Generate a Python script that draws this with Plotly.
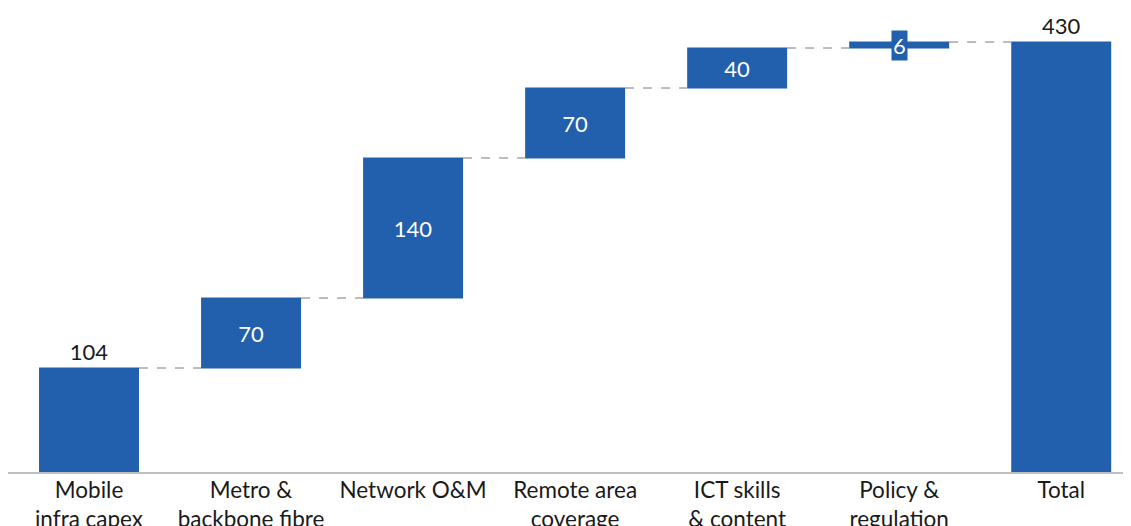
import plotly.graph_objects as go

categories = ["Mobile<br>infra capex", "Metro &<br>backbone fibre", "Network O&M",
              "Remote area<br>coverage", "ICT skills<br>& content", "Policy &<br>regulation", "Total"]
values = [104, 70, 140, 70, 40, 6, 430]
measures = ["relative"] * 6 + ["total"]

BLUE = "#2260AD"
FONT = "Lato"
FS = 22

texts = [str(v) for v in values]
texts[5] = ""
positions = ["outside", "inside", "inside", "inside", "inside", "inside", "outside"]

fig = go.Figure(go.Waterfall(
    x=list(range(len(categories))),
    y=values,
    measure=measures,
    text=texts,
    textposition=positions,
    insidetextanchor="middle",
    textfont=dict(family=FONT, size=FS),
    insidetextfont=dict(family=FONT, size=FS, color="white"),
    outsidetextfont=dict(family=FONT, size=FS, color="#1a1a1a"),
    constraintext="none",
    cliponaxis=False,
    increasing=dict(marker=dict(color=BLUE)),
    totals=dict(marker=dict(color=BLUE)),
    decreasing=dict(marker=dict(color=BLUE)),
    connector=dict(line=dict(color="#7a7a7a", width=1, dash="dash")),
))

# small bar label with a box
cum = sum(values[:5])
fig.add_annotation(x=5, y=cum + values[5] / 2, text=str(values[5]), showarrow=False,
                   bgcolor=BLUE, font=dict(family=FONT, size=FS, color="white"),
                   borderpad=1)

fig.update_layout(
    width=1131, height=526,
    margin=dict(l=0, r=0, t=0, b=62, autoexpand=False),
    plot_bgcolor="white", paper_bgcolor="white",
    showlegend=False,
    waterfallgap=0.383,
    font=dict(family=FONT, size=FS, color="#1a1a1a"),
)
fig.update_xaxes(tickmode="array", tickvals=list(range(len(categories))), ticktext=categories,
                 range=[-0.5, 6.48], showgrid=False, zeroline=False, automargin=False,
                 showline=True, linecolor="#c0c0c0", linewidth=1.5, ticks="",
                 ticklabelstandoff=-3,
                 tickfont=dict(family=FONT, size=22.5, color="#1a1a1a"))
fig.update_yaxes(range=[0, 464], visible=False, showgrid=False, zeroline=False, automargin=False)

fig.write_html("out.html")
